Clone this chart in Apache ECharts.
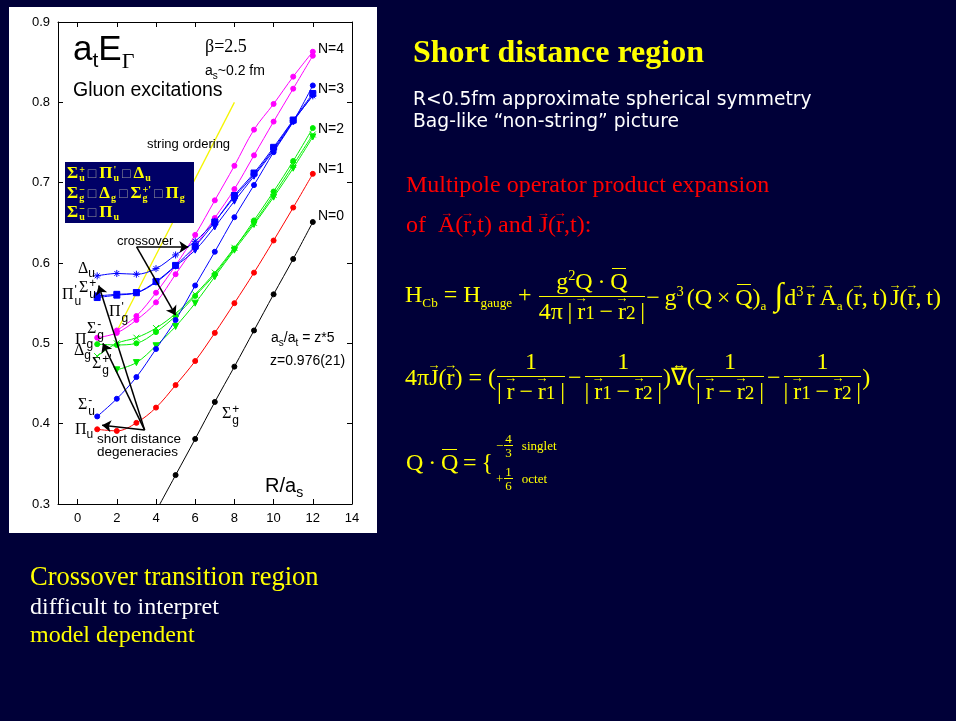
<!DOCTYPE html>
<html><head><meta charset="utf-8">
<script src="https://cdn.jsdelivr.net/npm/echarts@6/dist/echarts.min.js"></script>
<style>
html,body{margin:0;padding:0}
body{width:956px;height:721px;background:#000038;position:relative;overflow:hidden;font-family:'Liberation Serif',serif}
#panel{position:absolute;left:9px;top:7px;width:368px;height:526px;background:#fff}
#chart{position:absolute;left:0;top:0;width:956px;height:721px}
.a{position:absolute;white-space:nowrap;line-height:1}
.sans{font-family:'Liberation Sans',Arial,sans-serif;color:#000}
.gl{font-family:'Liberation Serif',serif;font-size:16px;color:#000}
.ls{font-family:'Liberation Sans',sans-serif;font-size:12px;vertical-align:-4px}
.ss{display:inline-flex;flex-direction:column;vertical-align:middle;line-height:0.9;font-size:12px;font-family:'Liberation Sans',sans-serif;margin-left:1px}
#box{position:absolute;left:65px;top:162px;width:129px;height:61px;background:#000066;color:#ffff00;font-family:'Liberation Serif',serif;font-weight:bold;font-size:17px}
#box div{position:absolute;left:2px;white-space:nowrap;line-height:1}
#box .q{color:#9a9a9a;font-weight:normal;font-size:14px;margin:0 3px}
#box .bs{display:inline-flex;flex-direction:column;vertical-align:middle;line-height:0.85;font-size:10px;margin-left:1px}
.y{color:#ffff00}
.eq{position:absolute;display:flex;align-items:center;height:60px;white-space:nowrap;font-family:'Liberation Serif',serif;color:#ffff00;font-size:24px}
.fr{display:inline-flex;flex-direction:column;align-items:center;margin:0 1px}
.fr .n{border-bottom:1.5px solid currentColor;padding:0 3px;line-height:1.15;align-self:stretch;text-align:center}
.fr .d{line-height:1.2;padding:0}
.v{position:relative;display:inline-block}
.v::before{content:'\2192';position:absolute;left:50%;transform:translateX(-50%);top:-0.42em;font-size:0.55em;line-height:1}
.v2{position:relative;display:inline-block}
.v2::before{content:'\2194';position:absolute;left:50%;transform:translateX(-50%);top:-0.45em;font-size:0.6em;line-height:1}
.ov{position:relative;display:inline-block}
.ov::after{content:'';position:absolute;left:8%;right:8%;top:0.02em;border-top:1.5px solid currentColor}
.sb{font-size:0.55em;vertical-align:-0.4em}
.sp{font-size:0.6em;vertical-align:0.65em}
.sm{font-size:0.8em}
.g3{margin-left:3px}
.g5{margin-left:5px}
.mn{margin:0 2px}
.int{font-size:1.35em;line-height:1;margin:0 1px 0 8px}
.cs{position:absolute;display:flex;align-items:center;white-space:nowrap;font-family:'Liberation Serif',serif;color:#ffff00;font-size:13px}
.cs .fr .n{border-bottom:1px solid currentColor;padding:0 1px;line-height:1}
.cs .fr .d{line-height:1}
</style></head>
<body>
<div id="panel"></div>
<div id="chart"></div>

<!-- in-chart annotations -->
<div class="a sans" style="left:73px;top:30px;font-size:35px">a<span style="font-size:21px;vertical-align:-7px">t</span>E<span style="font-family:'Liberation Serif';font-size:22px;vertical-align:-8px">Γ</span></div>
<div class="a" style="left:205px;top:37px;font-size:18px;font-family:'Liberation Serif';color:#000">β=2.5</div>
<div class="a sans" style="left:205px;top:63px;font-size:14px">a<span style="font-size:10px;vertical-align:-4px">s</span>~0.2 fm</div>
<div class="a sans" style="left:73px;top:80px;font-size:19.5px">Gluon excitations</div>
<div class="a sans" style="left:147px;top:137px;font-size:13px">string ordering</div>
<div class="a sans" style="left:117px;top:234px;font-size:13px">crossover</div>
<div class="a sans" style="left:318px;top:41px;font-size:14px">N=4</div>
<div class="a sans" style="left:318px;top:81px;font-size:14px">N=3</div>
<div class="a sans" style="left:318px;top:121px;font-size:14px">N=2</div>
<div class="a sans" style="left:318px;top:161px;font-size:14px">N=1</div>
<div class="a sans" style="left:318px;top:208px;font-size:14px">N=0</div>
<div class="a sans" style="left:271px;top:330px;font-size:14px">a<span style="font-size:10px;vertical-align:-4px">s</span>/a<span style="font-size:10px;vertical-align:-4px">t</span> = z*5</div>
<div class="a sans" style="left:270px;top:353px;font-size:14px">z=0.976(21)</div>
<div class="a sans" style="left:97px;top:432px;font-size:13.5px">short distance</div>
<div class="a sans" style="left:97px;top:445px;font-size:13.5px">degeneracies</div>
<div class="a sans" style="left:265px;top:475px;font-size:20px">R/a<span style="font-size:14px;vertical-align:-5px">s</span></div>

<div class="a gl" style="left:78px;top:260px">Δ<span class="ls">u</span></div>
<div class="a gl" style="left:62px;top:285px">Π<span class="ss"><span>'</span><span>u</span></span></div>
<div class="a gl" style="left:79px;top:278px">Σ<span class="ss"><span>+</span><span>u</span></span></div>
<div class="a gl" style="left:109px;top:302px">Π<span class="ss"><span>'</span><span>g</span></span></div>
<div class="a gl" style="left:87px;top:319px">Σ<span class="ss"><span>-</span><span>g</span></span></div>
<div class="a gl" style="left:75px;top:331px">Π<span class="ls">g</span></div>
<div class="a gl" style="left:74px;top:342px">Δ<span class="ls">g</span></div>
<div class="a gl" style="left:92px;top:354px">Σ<span class="ss"><span>+'</span><span>g</span></span></div>
<div class="a gl" style="left:78px;top:395px">Σ<span class="ss"><span>-</span><span>u</span></span></div>
<div class="a gl" style="left:75px;top:421px">Π<span class="ls">u</span></div>
<div class="a gl" style="left:222px;top:404px">Σ<span class="ss"><span>+</span><span>g</span></span></div>

<div id="box">
 <div style="top:2px">Σ<span class="bs"><span>+</span><span>u</span></span><span class="q">□</span>Π<span class="bs"><span>'</span><span>u</span></span><span class="q">□</span>Δ<span class="bs"><span>&nbsp;</span><span>u</span></span></div>
 <div style="top:22px">Σ<span class="bs"><span>−</span><span>g</span></span><span class="q">□</span>Δ<span class="bs"><span>&nbsp;</span><span>g</span></span><span class="q">□</span>Σ<span class="bs"><span>+'</span><span>g</span></span><span class="q">□</span>Π<span class="bs"><span>&nbsp;</span><span>g</span></span></div>
 <div style="top:41px">Σ<span class="bs"><span>−</span><span>u</span></span><span class="q">□</span>Π<span class="bs"><span>&nbsp;</span><span>u</span></span></div>
</div>

<!-- slide text -->
<div class="a y" style="left:413px;top:35px;font-size:32px;font-weight:bold">Short distance region</div>
<div class="a" style="left:413px;top:90px;font-size:18.7px;font-family:'DejaVu Sans';color:#fff">R&lt;0.5fm approximate spherical symmetry</div>
<div class="a" style="left:413px;top:112px;font-size:18.7px;font-family:'DejaVu Sans';color:#fff">Bag-like “non-string” picture</div>
<div class="a" style="left:406px;top:172px;font-size:24px;color:#ff0000">Multipole operator product expansion</div>
<div class="a" style="left:406px;top:212px;font-size:24px;color:#ff0000">of&nbsp;&nbsp;<span class="v">A</span>(<span class="v">r</span>,t) and <span class="v">J</span>(<span class="v">r</span>,t):</div>

<div class="eq" style="left:405px;top:266px;">
 <span>H<span class="sb">Cb</span>&nbsp;=&nbsp;H<span class="sb">gauge</span>&nbsp;+&nbsp;</span>
 <span class="fr"><span class="n">g<span class="sp">2</span>Q&thinsp;·&thinsp;<span class="ov">Q</span></span><span class="d">4π&thinsp;|&thinsp;<span class="v">r</span><span class="sm">1</span>&thinsp;−&thinsp;<span class="v">r</span><span class="sm">2</span>&thinsp;|</span></span>
 <span>−&thinsp;g<span class="sp">3</span><span class="g3">(</span>Q&thinsp;×&thinsp;<span class="ov">Q</span>)<span class="sb">a</span><span class="int">∫</span>d<span class="sp">3</span><span class="v g3">r</span><span class="v g5">A</span><span class="sb">a</span><span class="g3">(</span><span class="v">r</span>,&thinsp;t)<span class="v g3">J</span>(<span class="v">r</span>,&thinsp;t)</span>
</div>

<div class="eq" style="left:405px;top:347px;">
 <span>4π<span class="v">J</span>(<span class="v">r</span>)&nbsp;=&nbsp;(</span>
 <span class="fr"><span class="n">1</span><span class="d">|&thinsp;<span class="v">r</span>&thinsp;−&thinsp;<span class="v">r</span><span class="sm">1</span>&thinsp;|</span></span>
 <span class="mn">−</span>
 <span class="fr"><span class="n">1</span><span class="d">|&thinsp;<span class="v">r</span><span class="sm">1</span>&thinsp;−&thinsp;<span class="v">r</span><span class="sm">2</span>&thinsp;|</span></span>
 <span>)<span class="v2">∇</span>(</span>
 <span class="fr"><span class="n">1</span><span class="d">|&thinsp;<span class="v">r</span>&thinsp;−&thinsp;<span class="v">r</span><span class="sm">2</span>&thinsp;|</span></span>
 <span class="mn">−</span>
 <span class="fr"><span class="n">1</span><span class="d">|&thinsp;<span class="v">r</span><span class="sm">1</span>&thinsp;−&thinsp;<span class="v">r</span><span class="sm">2</span>&thinsp;|</span></span>
 <span>)</span>
</div>

<div class="eq" style="left:406px;top:432px;"><span>Q&thinsp;·&thinsp;<span class="ov">Q</span>&thinsp;=&thinsp;{</span></div>
<div class="cs" style="left:496px;top:432px"><span>−</span><span class="fr"><span class="n">4</span><span class="d">3</span></span><span style="margin-left:8px">singlet</span></div>
<div class="cs" style="left:496px;top:465px"><span>+</span><span class="fr"><span class="n">1</span><span class="d">6</span></span><span style="margin-left:8px">octet</span></div>

<div class="a y" style="left:30px;top:563px;font-size:26.5px">Crossover transition region</div>
<div class="a" style="left:30px;top:594px;font-size:24px;color:#fff">difficult to interpret</div>
<div class="a y" style="left:30px;top:622px;font-size:24px">model dependent</div>

<script>
// ---- data (R/a_s , a_t E) ----
const R_1to12 = [1,2,3,4,5,6,7,8,9,10,11,12];
const R_2to12 = [2,3,4,5,6,7,8,9,10,11,12];
const R_4to12 = [4,5,6,7,8,9,10,11,12];
const xTickValues = [0,2,4,6,8,10,12,14];

const E_SigmaGplus   = [0.291,0.336,0.381,0.427,0.471,0.516,0.561,0.605,0.651];            // black, N=0
const E_PiU          = [0.393,0.391,0.401,0.420,0.448,0.478,0.513,0.550,0.588,0.628,0.669,0.711]; // red, N=1
const E_SigmaUminus  = [0.409,0.431,0.458,0.493,0.529,0.572,0.614,0.657,0.697,0.738,0.776,0.821]; // blue circles
const E_PiUprime     = [0.557,0.560,0.563,0.577,0.597,0.621,0.651,0.684,0.712,0.744,0.778,0.811]; // blue squares
const E_SigmaUplus   = [0.559,0.561,0.563,0.576,0.596,0.616,0.645,0.677,0.708,0.740,0.776,0.809]; // blue triangles
const E_DeltaU       = [0.584,0.587,0.586,0.593,0.610,0.627,0.652,0.682,0.710,0.742,0.777,0.808]; // blue stars
const E_PiG          = [0.507,0.513,0.529,0.551,0.586,0.621,0.656,0.692,0.734,0.776,0.817,0.858]; // magenta
const E_PiGprime     = [0.516,0.534,0.563,0.597,0.635,0.678,0.721,0.766,0.798,0.832,0.863];       // magenta, from R=2
const E_SigmaGminus  = [0.499,0.498,0.500,0.514,0.534,0.559,0.586,0.618,0.653,0.689,0.727,0.768]; // green circles
const E_DeltaG       = [0.484,0.500,0.507,0.519,0.537,0.561,0.588,0.619,0.650,0.685,0.722,0.760]; // green crosses
const E_SigmaGplusP  = [0.467,0.476,0.497,0.521,0.550,0.583,0.616,0.648,0.682,0.718,0.757];       // green triangles, from R=2

const stringOrdering = [[2,0.515],[8,0.80]];
const crossoverArrows = [[[3.01,0.620],[5.65,0.620]],[[3.01,0.620],[5.0,0.535]]];
const degeneracyArrows = [[[3.42,0.392],[1.25,0.398]],[[3.42,0.392],[1.29,0.500]],[[3.42,0.392],[1.08,0.572]]];

function pairs(rs, es){ return rs.map((r,i)=>[r, es[i]]); }

const SYM_X = 'path://M0,0L10,10M10,0L0,10';
const SYM_STAR = 'path://M5,0L5,10M0,5L10,5M1.5,1.5L8.5,8.5M8.5,1.5L1.5,8.5';
const SYM_TRI = 'path://M0,0L10,0L5,8.7Z';

function mk(name, data, color, symbol, size){
  return {name, type:'line', data, smooth:0.35, symbol, symbolSize:size,
    lineStyle:{color, width:1}, itemStyle:{color, borderColor:color, borderWidth:1},
    z:3, emphasis:{disabled:true}, silent:true};
}

const axisCommon = {
  axisLine:{onZero:false, lineStyle:{color:'#000', width:1}},
  axisTick:{inside:true, length:5, lineStyle:{color:'#000'}},
  splitLine:{show:false}
};

const chart = echarts.init(document.getElementById('chart'), null, {renderer:'canvas'});
const arrowLines = crossoverArrows.concat(degeneracyArrows).map(a=>[{coord:a[0]},{coord:a[1]}]);

chart.setOption({
  backgroundColor:'transparent',
  animation:false,
  grid:{left:58, right:604, top:22, bottom:217},
  xAxis:[
    Object.assign({type:'value', min:-1, max:14, position:'bottom'}, axisCommon, {
      axisTick:{inside:true, length:5, customValues:xTickValues, lineStyle:{color:'#000'}},
      axisLabel:{customValues:xTickValues, color:'#000', fontSize:13, fontFamily:'Liberation Sans', margin:8}}),
    Object.assign({type:'value', min:-1, max:14, position:'top'}, axisCommon, {
      axisTick:{inside:true, length:5, customValues:xTickValues, lineStyle:{color:'#000'}},
      axisLabel:{show:false}})
  ],
  yAxis:[
    Object.assign({type:'value', min:0.3, max:0.9, interval:0.1, position:'left'}, axisCommon, {
      axisLabel:{color:'#000', fontSize:13, fontFamily:'Liberation Sans', margin:8, formatter:v=>v.toFixed(1)}}),
    Object.assign({type:'value', min:0.3, max:0.9, interval:0.1, position:'right'}, axisCommon, {
      axisLabel:{show:false}})
  ],
  series:[
    {name:'string ordering', type:'line', data:stringOrdering, symbol:'none', lineStyle:{color:'#f5f500', width:1.3, type:'solid'}, z:2, silent:true,
     markLine:{silent:true, symbol:['none','arrow'], symbolSize:9, label:{show:false},
       lineStyle:{color:'#000', width:1.5, type:'solid'}, emphasis:{disabled:true}, data:arrowLines}},
    mk('Σg+', pairs(R_4to12, E_SigmaGplus), '#000000', 'circle', 5),
    mk('Πu', pairs(R_1to12, E_PiU), '#ff0000', 'circle', 5),
    mk('Σg+\'', pairs(R_2to12, E_SigmaGplusP), '#00ee00', SYM_TRI, 6),
    mk('Δg', pairs(R_1to12, E_DeltaG), '#00ee00', SYM_X, 6),
    mk('Σg-', pairs(R_1to12, E_SigmaGminus), '#00ee00', 'circle', 5),
    mk('Πg', pairs(R_1to12, E_PiG), '#ff00ff', 'circle', 5),
    mk('Πg\'', pairs(R_2to12, E_PiGprime), '#ff00ff', 'circle', 5),
    mk('Σu-', pairs(R_1to12, E_SigmaUminus), '#0000ff', 'circle', 5),
    mk('Σu+', pairs(R_1to12, E_SigmaUplus), '#0000ff', SYM_TRI, 6),
    mk('Πu\'', pairs(R_1to12, E_PiUprime), '#0000ff', 'rect', 6),
    mk('Δu', pairs(R_1to12, E_DeltaU), '#0000ff', SYM_STAR, 7)
  ]
});
</script>
</body></html>
